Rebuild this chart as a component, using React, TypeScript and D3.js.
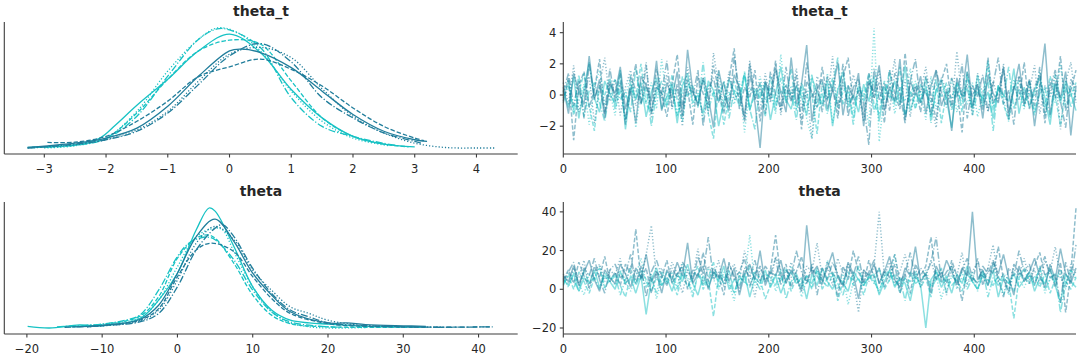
import React from 'react';
import * as d3 from 'd3';

const CYAN = '#17c2c4';
const TEAL = '#207d9b';

// KDE curves of theta_t, [value, density]
const kdeThetaTCyanSolid: [number, number][] = [[-3.27,0.008],[-3,0.011],[-2.5,0.019],[-2.1,0.047],[-1.85,0.1],[-1.5,0.182],[-1,0.289],[-0.5,0.406],[0,0.475],[0.5,0.399],[1,0.247],[1.5,0.13],[2,0.054],[2.5,0.022],[3,0.011]];
const kdeThetaTCyanDashed: [number, number][] = [[-3.2,0.008],[-2.5,0.019],[-2,0.047],[-1.5,0.15],[-1,0.289],[-0.5,0.406],[0,0.45],[0.5,0.434],[1,0.282],[1.5,0.13],[2,0.054],[2.5,0.022],[2.9,0.011]];
const kdeThetaTCyanDotted: [number, number][] = [[-3,0.006],[-2.5,0.015],[-2,0.047],[-1.5,0.157],[-1,0.323],[-0.5,0.454],[-0.2,0.5],[0.1,0.485],[0.5,0.406],[1,0.24],[1.5,0.116],[2,0.047],[2.6,0.015]];
const kdeThetaTCyanDashDot: [number, number][] = [[-3.2,0.008],[-2.5,0.017],[-2,0.044],[-1.5,0.137],[-1,0.302],[-0.5,0.454],[-0.2,0.496],[0,0.492],[0.5,0.42],[1,0.213],[1.5,0.095],[2,0.054],[2.5,0.025],[2.7,0.017]];
const kdeThetaTTealSolid: [number, number][] = [[-3.27,0.008],[-3,0.014],[-2.5,0.026],[-2,0.047],[-1.5,0.088],[-1,0.178],[-0.5,0.302],[0,0.406],[0.2,0.413],[0.5,0.399],[1,0.337],[1.5,0.24],[2,0.144],[2.5,0.075],[3,0.04],[3.2,0.033]];
const kdeThetaTTealDashed: [number, number][] = [[-2.95,0.029],[-2.5,0.03],[-2,0.054],[-1.5,0.116],[-1,0.199],[-0.5,0.3],[0,0.34],[0.5,0.372],[1,0.33],[1.5,0.261],[2,0.171],[2.5,0.095],[3,0.047],[3.15,0.036]];
const kdeThetaTTealDotted: [number, number][] = [[-3.27,0.006],[-2.5,0.019],[-2,0.04],[-1.5,0.081],[-1,0.157],[-0.5,0.282],[0,0.392],[0.5,0.42],[1,0.378],[1.5,0.25],[2,0.137],[2.5,0.068],[3,0.026],[3.5,0.008],[4,0.006],[4.29,0.006]];
const kdeThetaTTealDashDot: [number, number][] = [[-3.27,0.006],[-2.5,0.022],[-2,0.04],[-1.5,0.075],[-1,0.15],[-0.5,0.268],[0,0.385],[0.5,0.436],[1,0.36],[1.5,0.213],[2,0.13],[2.5,0.068],[3,0.033],[3.1,0.026]];

// KDE curves of theta
const kdeThetaCyanSolid: [number, number][] = [[-19.9,0.008],[-17,0.001],[-13,0.014],[-10,0.01],[-5,0.04],[-2.5,0.116],[0,0.227],[2.5,0.406],[4.2,0.496],[5,0.483],[7.5,0.337],[10,0.171],[12.5,0.075],[15,0.033],[17.5,0.022],[20,0.017],[25,0.008],[30,0.006],[33,0.006]];
const kdeThetaCyanDashed: [number, number][] = [[-14,0.006],[-10,0.015],[-5,0.05],[-2.5,0.13],[0,0.289],[2.5,0.372],[4,0.385],[5,0.372],[7.5,0.268],[10,0.137],[12.5,0.054],[15,0.019],[20,0.006],[25,0.004],[33,0.004]];
const kdeThetaCyanDotted: [number, number][] = [[-15,0.006],[-10,0.017],[-5,0.044],[-2.5,0.116],[0,0.254],[2.5,0.378],[5,0.413],[6,0.406],[7.5,0.316],[10,0.171],[12.5,0.068],[15,0.022],[17.5,0.006],[20,0.001],[25,0.003]];
const kdeThetaCyanDashDot: [number, number][] = [[-16,0.006],[-10,0.017],[-7,0.033],[-5,0.054],[-2.5,0.157],[0,0.296],[1.5,0.351],[3,0.372],[4,0.376],[5,0.365],[7.5,0.282],[10,0.157],[12.5,0.068],[15,0.026],[20,0.006],[22,0.004]];
const kdeThetaTealSolid: [number, number][] = [[-14,0.006],[-10,0.012],[-5,0.036],[-2.5,0.095],[0,0.227],[2.5,0.378],[5,0.45],[7.5,0.358],[10,0.227],[12.5,0.137],[15,0.068],[20,0.022],[22.5,0.022],[25,0.015],[30,0.01],[33,0.008]];
const kdeThetaTealDashed: [number, number][] = [[-12,0.006],[-10,0.011],[-5,0.033],[-2.5,0.081],[0,0.213],[2.5,0.323],[4.5,0.351],[7.5,0.316],[10,0.213],[12.5,0.123],[15,0.061],[20,0.019],[25,0.008],[30,0.006],[35,0.004],[41.5,0.006]];
const kdeThetaTealDotted: [number, number][] = [[-12,0.006],[-5,0.03],[-2.5,0.075],[0,0.199],[2.5,0.351],[5,0.42],[7.5,0.365],[10,0.24],[12.5,0.157],[15,0.088],[17.5,0.061],[20,0.033],[25,0.011],[30,0.006],[35,0.004]];
const kdeThetaTealDashDot: [number, number][] = [[-15,0.004],[-10,0.011],[-5,0.026],[-2.5,0.061],[0,0.171],[2.5,0.323],[5,0.413],[6,0.427],[7.5,0.378],[10,0.247],[12.5,0.144],[15,0.075],[17.5,0.047],[20,0.022],[25,0.011],[30,0.006],[35,0.004],[42.1,0.006]];

// trace values (every 5th draw), one string per chain
const traceThetaTCyanSolid = `
0.3 -0.8 1.2 -1.5 0.4 2.1 -0.2 -1.1 0.9 0.1
-0.6 1.6 -2.2 0.5 -0.3 0.8 -1.4 0.2 1.1 -0.9
-0.1 0.7 -1.8 0.6 1.4 -0.5 0.0 -1.2 0.9 0.3
-2.0 -0.4 1.0 0.2 -0.7 1.3 -1.0 0.4 -0.2 0.8
-1.6 0.1 1.8 -0.3 -0.9 0.6 -0.1 -1.3 1.1 0.2
-0.6 0.9 -2.0 0.3 1.5 -0.8 0.0 -1.1 0.7 -0.4
1.2 -1.7 0.5 -0.2 0.9 -0.6 1.9 -1.0 0.1 -0.5
0.6 -1.4 0.3 1.0 -0.3 -2.1 0.8 -0.1 0.4 -0.9
1.3 -0.7 0.2 -1.5 0.6 0.0 -0.4 1.7 -1.2 0.5
-0.8 0.3 1.1 -0.2 -1.9 0.7 -0.5 0.9 0.1 -1.0`;
const traceThetaTCyanDashed = `
-0.5 0.9 -1.3 0.2 1.4 -0.7 -2.3 0.6 0.0 1.1
-0.9 0.4 -1.6 0.8 -0.2 2.0 -0.6 -1.1 0.5 0.1
-0.8 1.3 -0.3 -1.7 0.7 0.2 -0.5 1.0 -1.2 -2.8
0.6 -1.9 -0.1 0.9 -0.4 1.5 -0.9 0.0 0.4 -1.4
1.2 -0.6 0.3 -0.2 1.7 -1.0 0.5 -0.7 0.1 -2.5
0.8 -0.3 1.1 -0.8 0.2 0.6 -1.5 0.4 -0.1 1.4
-0.6 -1.2 0.9 0.0 -0.4 1.8 -1.3 0.3 -0.9 0.7
0.1 -0.5 1.0 -1.8 0.2 -0.2 0.8 -1.1 1.3 -0.7
0.4 -0.3 2.2 -1.0 0.6 -0.6 -1.6 0.5 0.9 -0.4
0.1 -1.3 0.7 -0.8 1.2 0.0 -2.0 0.4 -0.1 0.8`;
const traceThetaTCyanDotted = `
0.1 1.0 -1.1 -0.4 0.7 -1.9 0.5 1.6 -0.6 0.2
-1.3 0.9 -0.2 1.3 -2.1 0.4 -0.5 0.8 -0.9 2.3
-0.3 0.6 -1.4 0.0 1.1 -0.8 0.3 -1.6 0.7 -0.1
1.5 -1.0 0.2 -0.6 0.9 -2.4 0.5 -0.2 1.2 -0.7
0.1 -1.2 2.6 -0.4 0.6 -0.9 0.3 -1.5 -2.8 -0.1
-0.7 1.4 -1.8 0.4 0.8 -0.3 -1.0 0.6 0.2 -2.0
4.3 -3.0 0.0 0.9 -1.2 0.5 -0.4 1.7 -0.8 0.3
-1.6 1.2 -0.9 0.6 -0.2 1.1 -1.1 0.4 -0.6 0.8
-1.4 0.1 1.9 -0.7 0.5 -0.3 -1.7 1.0 0.2 -0.9
0.7 -0.1 1.5 -1.3 0.3 -0.5 2.0 -0.8 0.6 -0.2`;
const traceThetaTCyanDashDot = `
-0.2 0.6 -0.9 1.3 -1.4 0.3 0.8 -0.5 -1.7 0.4
1.0 -0.3 0.2 -1.1 1.7 -0.6 0.5 -2.0 0.1 0.9
-0.7 0.4 -1.3 1.2 -0.1 0.6 -0.8 2.1 -1.0 0.2
-0.4 0.9 -1.5 0.3 0.0 1.4 -0.9 -2.2 0.7 -0.3
0.5 -1.0 1.1 -0.5 0.2 -1.6 0.8 -0.2 1.3 -0.8
0.1 -1.2 0.6 2.4 -0.6 0.3 -1.9 0.7 -0.4 1.0
-1.1 0.2 -0.3 1.6 -0.7 0.5 -1.4 0.0 0.9 -0.5
1.2 -1.8 0.4 -0.1 0.8 -1.0 0.3 -0.6 1.5 -1.3
0.2 -0.4 1.0 -2.3 0.6 -0.2 1.8 -0.9 0.4 -0.7
0.9 -1.1 0.1 0.5 -1.5 1.3 -0.3 0.7 -0.8 0.3`;
const traceThetaTTealSolid = `
0.5 -1.2 1.4 0.2 -0.6 2.5 -0.3 1.0 -1.5 0.7
0.1 1.8 -0.9 0.4 -1.8 1.2 0.6 -0.4 2.2 -1.0
0.8 -0.2 1.5 -1.3 2.9 0.3 -0.7 1.1 -0.1 -2.1
1.6 0.0 -0.8 1.3 0.5 -1.4 2.0 -0.5 -3.4 0.9
-0.3 1.7 0.2 -1.1 2.4 -0.6 0.7 3.2 -1.7 0.4
1.0 -0.9 0.3 2.1 -1.3 0.6 -0.2 1.4 -2.0 0.8
0.2 1.9 -1.0 0.5 -0.4 2.3 -1.6 0.9 0.0 1.2
-1.2 0.6 1.6 -0.7 0.3 -2.3 1.1 -0.1 2.6 -0.8
0.7 -1.5 1.3 0.1 -0.5 1.8 -1.1 0.4 2.0 -0.6
1.0 -2.0 0.5 3.3 -1.3 0.8 -0.2 1.5 -2.6 0.6`;
const traceThetaTTealDashed = `
-0.4 1.1 -2.9 0.6 1.5 -0.8 0.3 2.3 -1.2 0.9
-0.1 1.4 -1.6 0.2 2.0 -0.5 0.8 -1.1 1.7 0.0
-1.4 0.7 2.6 -0.7 0.4 -1.9 1.2 0.1 -0.6 1.9
0.3 -1.2 1.0 3.0 -0.9 0.5 -0.2 1.6 -1.7 0.8
0.0 2.2 -1.0 0.6 -0.4 1.3 -2.2 0.9 0.2 -0.8
1.8 -0.3 0.5 -1.5 1.1 2.4 -0.6 0.3 -1.3 1.4
-0.2 0.8 -1.8 1.6 0.1 -0.9 2.7 -0.4 0.6 -1.1
1.2 0.0 -1.6 0.9 2.0 -0.7 0.4 -2.4 1.5 -0.1
0.7 -1.0 2.4 -0.5 0.2 1.7 -1.4 0.6 -0.3 2.1
-0.9 0.5 1.3 -1.8 0.8 -0.2 2.5 -1.0 0.3 1.6`;
const traceThetaTTealDotted = `
0.8 -0.6 1.9 -1.1 0.3 1.2 -1.8 0.6 2.4 -0.4
1.0 -1.3 0.5 1.6 -0.7 0.2 2.1 -1.5 0.9 -0.2
1.3 -0.9 0.4 -2.0 1.8 0.1 -0.5 1.1 -1.2 2.7
0.6 -0.8 1.5 -0.3 0.2 -1.6 2.2 0.0 -1.0 1.4
-0.5 2.0 -1.3 0.7 -0.1 1.7 -0.9 0.3 -2.8 1.2
0.5 -0.4 2.5 -1.2 0.8 -0.6 1.3 0.1 -1.7 0.9
-0.2 1.6 -1.0 0.4 2.3 -0.7 1.0 -1.4 0.6 0.2
1.8 -0.5 -2.1 1.1 0.3 -0.8 2.8 -0.3 0.7 -1.3
1.4 0.0 -1.0 0.9 -0.4 2.0 -1.6 0.5 1.2 -0.7
0.3 1.9 -1.2 0.6 -0.1 1.4 -2.2 0.8 2.1 -0.5`;
const traceThetaTTealDashDot = `
0.2 1.4 -0.7 0.9 -1.5 2.0 -0.2 0.6 -1.1 1.7
-0.4 0.8 -1.9 1.2 0.3 -0.6 1.9 -1.2 0.5 0.1
2.2 -0.8 0.7 -1.4 1.0 -0.1 1.6 -2.0 0.4 1.1
-0.5 0.9 -1.0 2.5 0.2 -1.7 1.3 -0.3 0.8 -1.2
1.5 0.0 -0.9 1.8 -0.4 0.6 -1.6 2.1 -0.2 0.7
-1.1 1.2 0.3 -0.7 2.0 -1.4 0.5 1.0 -0.6 -3.2
1.7 -0.3 0.8 -1.0 1.4 0.1 -1.8 0.9 2.3 -0.5
0.4 -1.3 1.6 0.2 -0.8 1.1 -0.2 2.0 -1.5 0.6
-0.1 1.3 -1.1 0.7 2.4 -0.6 0.3 -1.9 1.2 0.0
0.9 -0.7 1.8 -1.3 0.5 1.6 -0.4 -2.1 1.0 0.4`;

const traceThetaCyanSolid = `
5 2 8 -1 6 3 10 1 7 4
0 9 3 6 -2 7 -13 5 11 2
6 -1 8 4 13 3 -3 7 1 9
4 12 0 5 2 8 -4 6 3 10
1 7 -2 5 9 3 6 -5 8 2
11 4 0 7 3 -1 9 5 2 6
8 -3 4 10 1 6 3 -6 7 2
-20 5 9 1 6 -2 8 3 12 4
0 7 2 10 -4 6 3 8 1 5
9 -1 6 3 11 2 -7 8 4 1`;
const traceThetaCyanDashed = `
3 7 0 9 4 -2 6 11 1 5
8 2 -4 7 3 10 5 -1 6 2
9 4 -3 8 1 6 12 0 5 -14
7 3 10 -2 6 4 1 9 5 -5
2 8 4 11 -1 6 3 7 0 10
5 1 8 -6 4 9 2 6 -3 7
3 11 0 5 8 -2 6 4 9 1
6 -4 10 3 7 2 5 -1 8 4
0 9 5 2 7 -3 4 -15 6 11
3 7 1 8 -2 5 10 4 0 6`;
const traceThetaCyanDotted = `
6 1 9 3 -3 8 5 12 0 7
2 10 4 -1 7 16 3 8 -5 6
4 9 1 13 6 -2 8 3 11 5
0 7 3 -6 9 5 28 2 8 4
10 -1 6 3 12 7 -4 5 1 9
3 15 6 0 8 -8 4 11 2 7
5 -2 9 4 18 1 6 -3 8 3
10 2 7 -5 5 12 0 6 3 9
-1 8 4 13 2 6 -3 9 5 1
7 3 11 -2 6 4 8 0 10 5`;
const traceThetaCyanDashDot = `
2 8 5 -1 10 3 6 0 9 4
7 -3 5 11 2 8 1 6 -2 9
3 7 0 10 5 -4 8 2 6 14
1 9 4 -2 7 3 12 5 0 8
6 2 10 -5 4 8 1 7 3 11
0 6 9 3 -3 7 5 12 2 8
4 -1 7 10 2 6 -6 9 3 5
8 1 5 11 -2 7 4 9 0 6
3 10 -4 6 2 8 5 -1 9 4
7 2 12 0 5 8 -12 3 10 6`;
const traceThetaTealSolid = `
7 4 12 2 9 15 5 -1 10 6
3 13 8 1 11 6 18 4 9 -2
10 5 14 7 24 3 8 12 0 9
6 16 4 11 -3 8 13 5 20 2
9 7 15 3 10 6 -1 33 8 12
4 11 19 6 2 14 8 -5 10 7
13 3 9 17 5 1 11 7 22 4
8 -2 12 6 15 9 3 11 7 40
5 10 2 14 8 18 6 -3 12 4
9 16 7 1 13 5 21 8 3 11`;
const traceThetaTealDashed = `
5 10 3 14 7 1 12 6 17 4
9 2 13 8 31 5 11 -2 9 6
15 3 8 12 0 10 6 19 4 11
7 -3 14 5 9 16 2 8 12 4
10 28 6 13 1 9 17 3 11 7
2 14 8 -4 12 5 20 9 3 15
6 11 1 10 18 4 8 -2 13 7
12 27 5 9 3 15 7 -6 10 4
16 2 11 8 22 5 -1 13 9 6
3 12 19 7 10 1 14 -12 8 42`;
const traceThetaTealDotted = `
8 3 11 6 15 0 9 13 4 10
7 16 2 12 9 5 18 33 6 11
4 14 8 -2 10 6 21 3 12 7
15 1 9 13 5 20 8 -4 11 6
3 17 10 4 14 7 -1 12 9 24
6 11 2 16 8 13 5 -12 10 4
12 40 7 14 3 9 18 6 11 1
8 15 5 10 -3 13 7 19 2 9
14 6 11 23 4 8 -2 12 7 16
5 10 3 15 9 22 6 1 13 8`;
const traceThetaTealDashDot = `
4 9 14 2 11 7 16 5 -2 10
13 6 8 18 3 12 -4 9 15 7
2 11 6 14 10 4 17 8 27 5
9 3 13 7 -1 11 6 15 4 12
8 16 2 10 6 20 9 3 13 -3
11 5 14 8 1 12 7 17 4 9
15 3 10 6 13 -2 8 19 5 11
7 14 27 4 9 12 1 10 16 6
3 12 8 15 5 -4 11 7 20 9
13 2 10 17 6 8 -7 14 4 23`;

const kdeThetaT = [kdeThetaTCyanSolid, kdeThetaTCyanDashed, kdeThetaTCyanDotted, kdeThetaTCyanDashDot,
  kdeThetaTTealSolid, kdeThetaTTealDashed, kdeThetaTTealDotted, kdeThetaTTealDashDot];
const kdeTheta = [kdeThetaCyanSolid, kdeThetaCyanDashed, kdeThetaCyanDotted, kdeThetaCyanDashDot,
  kdeThetaTealSolid, kdeThetaTealDashed, kdeThetaTealDotted, kdeThetaTealDashDot];
const traceThetaT = [traceThetaTCyanSolid, traceThetaTCyanDashed, traceThetaTCyanDotted, traceThetaTCyanDashDot,
  traceThetaTTealSolid, traceThetaTTealDashed, traceThetaTTealDotted, traceThetaTTealDashDot];
const traceTheta = [traceThetaCyanSolid, traceThetaCyanDashed, traceThetaCyanDotted, traceThetaCyanDashDot,
  traceThetaTealSolid, traceThetaTealDashed, traceThetaTealDotted, traceThetaTealDashDot];

const chainColors = [CYAN, CYAN, CYAN, CYAN, TEAL, TEAL, TEAL, TEAL];
const chainDashes = ['', '4.5 2', '1.2 2', '7 2 1.2 2', '', '4.5 2', '1.2 2', '7 2 1.2 2'];

const thetaTTicks = [-3, -2, -1, 0, 1, 2, 3, 4];
const thetaTicks = [-20, -10, 0, 10, 20, 30, 40];
const drawTicks = [0, 100, 200, 300, 400];
const traceThetaTTicks = [-2, 0, 2, 4];
const traceThetaTicks = [-20, 0, 20, 40];
const lastDraw = 499;

const AXIS = '#3d3d3d';
const TEXT = '#262626';
const FONT = '"DejaVu Sans", sans-serif';

const parse = (s: string) => s.trim().split(/\s+/).map(Number);

function withMargin([a, b]: [number, number]): [number, number] {
  const m = (b - a) * 0.05;
  return [a - m, b + m];
}

type Box = { left: number; right: number; top: number; bottom: number };

function Frame({ box, title, xScale, xTicks, yScale, yTicks }: any) {
  const { left, right, top, bottom } = box;
  const fmt = d3.format('');
  return (
    <g fontFamily={FONT}>
      <line x1={left} x2={left} y1={top} y2={bottom} stroke={AXIS} strokeWidth={1.1} />
      <line x1={left} x2={right} y1={bottom} y2={bottom} stroke={AXIS} strokeWidth={1.1} />
      {xTicks.map((t: number) => (
        <g key={'x' + t} transform={`translate(${xScale(t)},${bottom})`}>
          <line y2={3.5} stroke={AXIS} strokeWidth={1.1} />
          <text y={19.3} textAnchor="middle" fontSize={11.5} fill={TEXT}>{fmt(t)}</text>
        </g>
      ))}
      {yTicks && yTicks.map((t: number) => (
        <g key={'y' + t} transform={`translate(${left},${yScale(t)})`}>
          <line x2={-3.5} stroke={AXIS} strokeWidth={1.1} />
          <text x={-7} dy="0.35em" textAnchor="end" fontSize={11.5} fill={TEXT}>{fmt(t)}</text>
        </g>
      ))}
      <text x={(left + right) / 2} y={top - 6.5} textAnchor="middle" fontSize={14} fontWeight="bold" fill={TEXT}>{title}</text>
    </g>
  );
}

function KdePanel({ box, title, curves, ticks }: { box: Box; title: string; curves: [number, number][][]; ticks: number[] }) {
  const all = curves.flat();
  const x = d3.scaleLinear().domain(withMargin(d3.extent(all, d => d[0]) as [number, number])).range([box.left, box.right]);
  const y = d3.scaleLinear().domain(withMargin(d3.extent(all, d => d[1]) as [number, number])).range([box.bottom, box.top]);
  const line = d3.line<[number, number]>().x(d => x(d[0])).y(d => y(d[1])).curve(d3.curveCatmullRom.alpha(0.5));
  return (
    <g>
      {curves.map((c, i) => (
        <path key={i} d={line(c) || ''} fill="none" stroke={chainColors[i]} strokeWidth={1.3}
          strokeDasharray={chainDashes[i] || undefined} />
      ))}
      <Frame box={box} title={title} xScale={x} xTicks={ticks} />
    </g>
  );
}

function TracePanel({ box, title, chains, yTicks }: { box: Box; title: string; chains: string[]; yTicks: number[] }) {
  const series = chains.map(parse);
  const all = series.flat();
  const x = d3.scaleLinear().domain([0, lastDraw]).range([box.left, box.right]);
  const y = d3.scaleLinear().domain(withMargin(d3.extent(all) as [number, number])).range([box.bottom, box.top]);
  return (
    <g>
      {series.map((vals, i) => {
        const step = lastDraw / (vals.length - 1);
        const line = d3.line<number>().x((_, j) => x(j * step)).y(d => y(d));
        return (
          <path key={i} d={line(vals) || ''} fill="none" stroke={chainColors[i]} strokeOpacity={0.5}
            strokeWidth={1.5} strokeLinejoin="bevel" strokeDasharray={chainDashes[i] || undefined} />
        );
      })}
      <Frame box={box} title={title} xScale={x} xTicks={drawTicks} yScale={y} yTicks={yTicks} />
    </g>
  );
}

export default function App() {
  const leftX = { left: 4.3, right: 517.7 };
  const rightX = { left: 563.3, right: 1076 };
  const topY = { top: 22, bottom: 154 };
  const botY = { top: 202, bottom: 334 };
  return (
    <svg width={1080} height={360} style={{ position: 'absolute', left: 0, top: 0, background: '#fff' }}>
      <KdePanel box={{ ...leftX, ...topY }} title="theta_t" curves={kdeThetaT} ticks={thetaTTicks} />
      <TracePanel box={{ ...rightX, ...topY }} title="theta_t" chains={traceThetaT} yTicks={traceThetaTTicks} />
      <KdePanel box={{ ...leftX, ...botY }} title="theta" curves={kdeTheta} ticks={thetaTicks} />
      <TracePanel box={{ ...rightX, ...botY }} title="theta" chains={traceTheta} yTicks={traceThetaTicks} />
    </svg>
  );
}
